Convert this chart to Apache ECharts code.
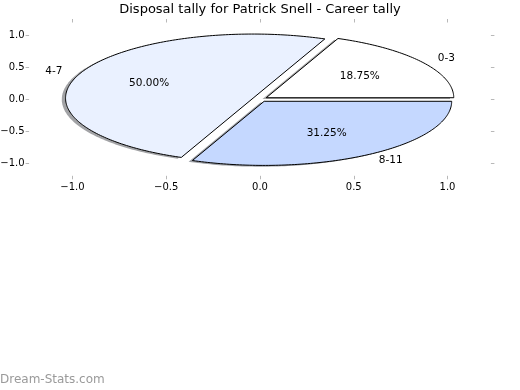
<!DOCTYPE html>
<html>
<head>
<meta charset="utf-8">
<script src="https://cdn.jsdelivr.net/npm/echarts@6/dist/echarts.min.js"></script>
<style>html,body{margin:0;padding:0;background:#fff}#c{width:520px;height:390px}</style>
</head>
<body>
<div id="c"></div>
<script>
const titleText = 'Disposal tally for Patrick Snell - Career tally';
const categories = ['0-3', '4-7', '8-11'];
const values = [18.75, 50.00, 31.25];
const xTicks = [-1.0, -0.5, 0.0, 0.5, 1.0];
const yTicks = [-1.0, -0.5, 0.0, 0.5, 1.0];

const sliceColors = ['#ffffff', '#eaf1ff', '#c5d8ff'];
const EXPLODE = 0.04;
const SHADOW = -0.02;
const FONT = 'DejaVu Sans';

const total = values.reduce((a, b) => a + b, 0);
const cum = [0];
values.forEach(v => cum.push(cum[cum.length - 1] + v));

function sliceGeom(i) {
  const a0 = cum[i] / total * 360;
  const a1 = cum[i + 1] / total * 360;
  const mid = (a0 + a1) / 2 * Math.PI / 180;
  return { a0, a1, mid, cx: EXPLODE * Math.cos(mid), cy: EXPLODE * Math.sin(mid) };
}
function wedgePts(api, g, dx, dy) {
  const pts = [api.coord([g.cx + dx, g.cy + dy])];
  const n = Math.max(2, Math.ceil(g.a1 - g.a0));
  for (let k = 0; k <= n; k++) {
    const a = (g.a0 + (g.a1 - g.a0) * k / n) * Math.PI / 180;
    pts.push(api.coord([g.cx + dx + Math.cos(a), g.cy + dy + Math.sin(a)]));
  }
  return pts;
}
function shadeColor(hex) {
  const r = parseInt(hex.slice(1, 3), 16), g = parseInt(hex.slice(3, 5), 16), b = parseInt(hex.slice(5, 7), 16);
  return 'rgba(' + Math.round(r * 0.3) + ',' + Math.round(g * 0.3) + ',' + Math.round(b * 0.3) + ',0.5)';
}
const fmt = v => (Math.abs(v) < 1e-9 ? 0 : v).toFixed(1).replace('-', '\u2212');

const tickStyle = { show: true, inside: true, length: 3.5, lineStyle: { color: '#b8b8b8', width: 1 } };
function mkAxis(pos, ticks, labels, isX) {
  return {
    type: 'value', position: pos, min: -1.25, max: 1.25,
    axisLine: { show: false, onZero: false }, splitLine: { show: false },
    axisTick: Object.assign({ customValues: ticks }, tickStyle),
    axisLabel: labels ? {
      show: true, customValues: ticks, formatter: fmt, color: '#000',
      fontFamily: FONT, fontSize: 10, margin: isX ? 3 : 1
    } : { show: false }
  };
}

const chart = echarts.init(document.getElementById('c'), null, { renderer: 'canvas' });
const data = values.map((v, i) => [i, v]);
chart.setOption({
  animation: false,
  backgroundColor: '#fff',
  title: {
    text: titleText, left: 'center', top: 3, padding: 0,
    textStyle: { fontFamily: FONT, fontSize: 13, fontWeight: 'normal', color: '#000' }
  },
  grid: { left: 25.6, right: 25.6, top: 19, bottom: 210.7, containLabel: false, outerBoundsMode: 'none' },
  xAxis: [mkAxis('bottom', xTicks, true, true), mkAxis('top', xTicks, false, true)],
  yAxis: [mkAxis('left', yTicks, true, false), mkAxis('right', yTicks, false, false)],
  graphic: [{
    type: 'text', left: 0, top: 374,
    style: { text: 'Dream-Stats.com', font: '12px "DejaVu Sans"', fill: '#9a9a9a' }
  }],
  series: [
    {
      type: 'custom', xAxisIndex: 0, yAxisIndex: 0, z: 1, clip: false, data: data,
      renderItem: function (params, api) {
        const i = params.dataIndex;
        const g = sliceGeom(i);
        return {
          type: 'polygon',
          shape: { points: wedgePts(api, g, SHADOW, SHADOW) },
          style: { fill: shadeColor(sliceColors[i]), stroke: null }
        };
      }
    },
    {
      type: 'custom', xAxisIndex: 0, yAxisIndex: 0, z: 2, clip: false, data: data,
      renderItem: function (params, api) {
        const i = params.dataIndex;
        const g = sliceGeom(i);
        const cm = Math.cos(g.mid), sm = Math.sin(g.mid);
        const lp = api.coord([g.cx + 1.1 * cm, g.cy + 1.1 * sm]);
        const pp = api.coord([g.cx + 0.6 * cm, g.cy + 0.6 * sm]);
        const pct = (api.value(1) / total * 100).toFixed(2) + '%';
        return {
          type: 'group',
          children: [
            {
              type: 'polygon',
              shape: { points: wedgePts(api, g, 0, 0) },
              style: { fill: sliceColors[i], stroke: '#000', lineWidth: 1, lineJoin: 'miter' }
            },
            {
              type: 'text', z2: 10,
              style: {
                text: categories[i], x: lp[0], y: lp[1],
                textAlign: cm >= 0 ? 'left' : 'right', textVerticalAlign: 'middle',
                font: '10.5px "DejaVu Sans"', fill: '#000'
              }
            },
            {
              type: 'text', z2: 10,
              style: {
                text: pct, x: pp[0], y: pp[1],
                textAlign: 'center', textVerticalAlign: 'middle',
                font: '10.5px "DejaVu Sans"', fill: '#000'
              }
            }
          ]
        };
      }
    }
  ]
});
</script>
</body>
</html>
